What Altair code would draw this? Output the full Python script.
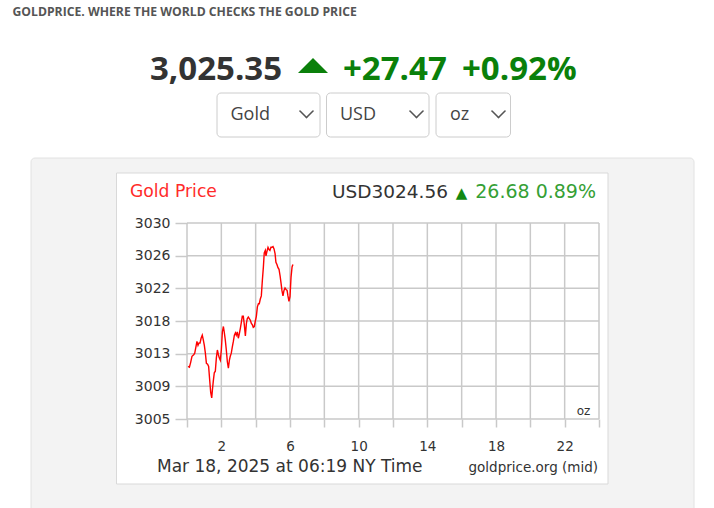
import altair as alt
import pandas as pd
import numpy as np

# ---- data ----
hours = [0.06, 0.14, 0.21, 0.29, 0.39, 0.45, 0.52, 0.58, 0.64, 0.70, 0.76, 0.82, 0.89, 0.95,
         1.01, 1.07, 1.13, 1.20, 1.26, 1.32, 1.38, 1.44, 1.48, 1.53, 1.59, 1.65, 1.71, 1.77,
         1.83, 1.88, 1.94, 2.00, 2.06, 2.12, 2.17, 2.23, 2.29, 2.35, 2.41, 2.47, 2.52, 2.58,
         2.64, 2.70, 2.76, 2.82, 2.87, 2.93, 2.99, 3.05, 3.11, 3.17, 3.22, 3.28, 3.34, 3.40,
         3.46, 3.51, 3.57, 3.63, 3.69, 3.75, 3.81, 3.86, 3.92, 3.98, 4.04, 4.10, 4.16, 4.21,
         4.27, 4.33, 4.39, 4.45, 4.50, 4.56, 4.60, 4.66, 4.72, 4.78, 4.83, 4.89, 4.95, 5.01,
         5.07, 5.13, 5.18, 5.24, 5.30, 5.36, 5.42, 5.48, 5.53, 5.59, 5.65, 5.71, 5.77, 5.83,
         5.88, 5.94, 6.00, 6.06, 6.12, 6.17]
prices = [3011.7, 3011.6, 3012.2, 3013.0, 3013.2, 3013.4, 3014.2, 3014.9, 3014.4, 3014.7,
          3014.7, 3015.3, 3015.7, 3015.1, 3014.4, 3013.4, 3012.1, 3012.0, 3011.7, 3010.0,
          3008.4, 3007.7, 3008.7, 3009.8, 3010.9, 3011.1, 3012.8, 3013.8, 3013.2, 3012.8,
          3012.5, 3013.8, 3016.1, 3016.8, 3016.1, 3015.1, 3013.8, 3012.3, 3011.5, 3012.5,
          3013.0, 3013.4, 3014.2, 3014.9, 3015.7, 3016.0, 3015.7, 3016.1, 3015.3, 3015.9,
          3016.6, 3017.4, 3018.1, 3018.1, 3017.0, 3015.6, 3017.2, 3017.8, 3018.0, 3017.8,
          3017.6, 3017.2, 3017.0, 3016.7, 3016.8, 3017.5, 3018.1, 3019.3, 3019.7, 3019.7,
          3020.3, 3020.7, 3022.7, 3024.4, 3026.2, 3026.5, 3025.8, 3026.4, 3026.9, 3026.6,
          3026.5, 3026.9, 3026.9, 3027.0, 3026.7, 3026.1, 3025.0, 3024.7, 3024.3, 3024.1,
          3023.3, 3022.3, 3021.4, 3020.7, 3021.4, 3021.7, 3021.5, 3021.4, 3020.7, 3020.0,
          3020.6, 3023.1, 3024.4, 3024.7]
grid_hours = [0, 2, 4, 6, 8, 10, 12, 14, 16, 18, 20, 22, 24]
y_min, y_max = 3005, 3030
y_ticks = [float(v) for v in np.linspace(y_min, y_max, 7)]

page_header = "GOLDPRICE. WHERE THE WORLD CHECKS THE GOLD PRICE"
big_price = "3,025.35"
big_change = ["+27.47", "+0.92%"]
selectors = ["Gold", "USD", "oz"]
chart_title = "Gold Price"
chart_price = "USD3024.56"
chart_change = "26.68 0.89%"
chart_date = "Mar 18, 2025 at 06:19 NY Time"
chart_source = "goldprice.org (mid)"
unit_label = "oz"

# ---- layout ----
W, H = 412, 196
OX, OY = 187, 223


def X(px):
    return px - OX


def Y(py):
    return py - OY


one = pd.DataFrame({"k": [0]})


def rect(x1, y1, x2, y2, fill, stroke, r=0, sw=1):
    return alt.Chart(one).mark_rect(fill=fill, stroke=stroke, strokeWidth=sw, cornerRadius=r).encode(
        x=alt.value(X(x1)), x2=alt.value(X(x2)), y=alt.value(Y(y1)), y2=alt.value(Y(y2)))


def text(s, x, y, size, color, font="DejaVu Sans", weight="normal", align="left", baseline="alphabetic"):
    return alt.Chart(one).mark_text(text=s, font=font, fontSize=size, color=color, fontWeight=weight,
                                    align=align, baseline=baseline).encode(
        x=alt.value(X(x)), y=alt.value(Y(y)))


def seg(x1, y1, x2, y2, color="#555555", w=1.6):
    return alt.Chart(one).mark_rule(color=color, strokeWidth=w, strokeCap="round").encode(
        x=alt.value(X(x1)), y=alt.value(Y(y1)), x2=alt.value(X(x2)), y2=alt.value(Y(y2)))


def chevron(xl, color="#555555"):
    return [seg(xl, 111, xl + 6.5, 117.5, color), seg(xl + 6.5, 117.5, xl + 13, 111, color)]


xs = alt.Scale(domain=[0, 24], nice=False, zero=False)
ys = alt.Scale(domain=[y_min, y_max], nice=False, zero=False)
GRID = "#c9c9c9"

axis_common = dict(grid=False, domain=False, title=None, zindex=1, labelFont="DejaVu Sans",
                   labelColor="#333333", tickColor=GRID, tickWidth=1.5,
                   labelFlush=False, labelOverlap=False)
x_axis = alt.Axis(values=grid_hours, tickSize=8, labelPadding=12, labelFontSize=13.5,
                  labelExpr="datum.value % 4 == 2 ? datum.value : ''", **axis_common)
y_axis = alt.Axis(values=y_ticks, format=".0f", tickSize=12, labelPadding=5, labelFontSize=14,
                  **axis_common)

layers = []
# gray panel and white chart box
layers.append(rect(31, 158, 694, 540, "#f3f3f3", "#e2e2e2", r=4))
layers.append(rect(116.5, 173, 608, 484, "#ffffff", "#d9d9d9"))

# page header
layers.append(text(page_header, 12.5, 15.5, 12.2, "#555555", font="Open Sans", weight=700))

# big price line
layers.append(text(big_price, 150, 80, 33, "#333333", font="Open Sans", weight=700))
layers.append(alt.Chart(one).mark_point(shape="M -1 0.5 L 1 0.5 L 0 -0.5 Z", filled=True, size=900,
                                        color="#0a800a", opacity=1, strokeWidth=0).encode(
    x=alt.value(X(313)), y=alt.value(Y(65.5))))
layers.append(text(big_change[0], 343, 80, 33, "#0a800a", font="Open Sans", weight=700))
layers.append(text(big_change[1], 462, 80, 33, "#0a800a", font="Open Sans", weight=700))

# selector boxes
boxes = [(217, 320), (326.5, 429), (436, 510.5)]
chev_x = [300, 410, 492]
text_x = [230.5, 340, 450]
for (bx1, bx2), cx, tx, lab in zip(boxes, chev_x, text_x, selectors):
    layers.append(rect(bx1, 93, bx2, 137, "#ffffff", "#cccccc", r=4))
    layers.append(text(lab, tx, 115, 18, "#444444", font="Open Sans", baseline="middle"))
    layers.extend(chevron(cx))

# chart texts
layers.append(text(chart_title, 130, 197, 17.2, "#ff2a2a"))
layers.append(text(chart_price, 448, 198, 18.5, "#333333", align="right"))
layers.append(text("\u25b2", 461.5, 198, 15, "#118811", align="center"))
layers.append(text(chart_change, 596, 198, 19, "#35a035", align="right"))
layers.append(text(chart_date, 157, 472, 17, "#333333"))
layers.append(text(chart_source, 598, 472, 13.5, "#333333", align="right"))
layers.append(text(unit_label, 583.5, 415, 12, "#333333", align="center"))

# grid (through the scales) with axes
vgrid = alt.Chart(pd.DataFrame({"h": grid_hours})).mark_rule(color=GRID, strokeWidth=1.5).encode(
    x=alt.X("h:Q", scale=xs, axis=x_axis))
hgrid = alt.Chart(pd.DataFrame({"p": y_ticks})).mark_rule(color=GRID, strokeWidth=1.5).encode(
    y=alt.Y("p:Q", scale=ys, axis=y_axis))
layers.append(vgrid)
layers.append(hgrid)

line = alt.Chart(pd.DataFrame({"hour": hours, "price": prices})).mark_line(
    color="#ff0000", strokeWidth=1.4).encode(
    x=alt.X("hour:Q", scale=xs, axis=x_axis),
    y=alt.Y("price:Q", scale=ys, axis=y_axis))
layers.append(line)

chart = alt.layer(*layers).properties(
    width=W, height=H,
    padding={"left": OX, "top": OY, "right": 714 - OX - W, "bottom": 508 - OY - H},
    autosize="none", background="#ffffff",
).configure_view(strokeWidth=0)

chart.save("out.html", embed_options={"renderer": "svg", "actions": False})
